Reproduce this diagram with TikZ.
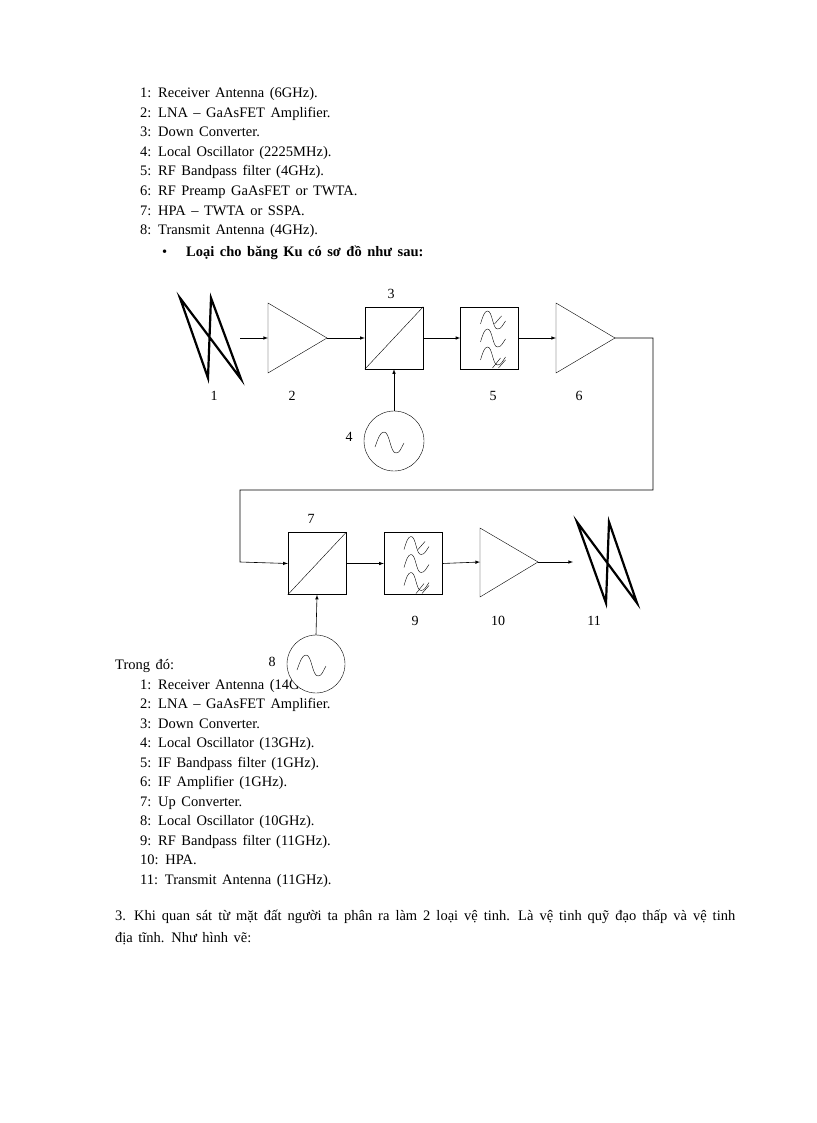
\documentclass[tikz,border=0pt]{standalone}
\usepackage{fontspec}
\setmainfont{Liberation Serif}
\newcommand{\wsp}{\spaceskip=5.5pt plus 1pt minus 0.5pt}
\begin{document}
\begin{tikzpicture}[x=1pt,y=-1pt,
  txt/.style={anchor=base west,inner sep=0pt,font=\fontsize{14.5}{16}\selectfont\wsp},
  lab/.style={inner sep=0pt,font=\fontsize{14}{15}\selectfont},
  blk/.style={draw,minimum width=58pt,minimum height=62pt,inner sep=0pt},
  osc/.style={draw,circle,fill=white,minimum size=60pt,inner sep=0pt},
  arr/.style={-latex,line width=0.6pt},
  ant/.style={line width=2.2pt,line join=miter}]
\useasboundingbox (0,0) rectangle (816,1123);
% text list 1
\foreach \t [count=\i] in {1: Receiver  Antenna  (6GHz).,2: LNA – GaAsFET Amplifier.,3: Down Converter.,4: Local Oscillator  (2225MHz).,5: RF Bandpass  filter  (4GHz).,6: RF Preamp  GaAsFET  or TWTA.,7: HPA – TWTA  or  SSPA.,8: Transmit  Antenna  (4GHz).}
  \node[txt] (a\i) at (140,{98+19.5*(\i-1)}) {\t};
\node[txt] (bul) at (162,256) {\textbullet};
\node[txt] (head) at (186,256) {\textbf{Loại cho băng Ku có sơ đồ như sau:}};
% top row
\draw[ant] (180,298) -- (208,378) -- (211,298) -- (241,379) -- cycle;
\coordinate (a1e) at (240,338);
\coordinate (n2l) at (268,338);
\draw (268,303) -- (327,338) -- (268,373) -- cycle;
\coordinate (n2r) at (327,338);
\node[blk] (n3) at (394,338) {};
\draw (n3.south west) -- (n3.north east);
\node[blk] (n5) at (489.5,338) {};
\coordinate (n6l) at (556,338);
\draw (556,303) -- (615,338) -- (556,373) -- cycle;
\coordinate (n6r) at (615,338);
\node[osc] (n4) at (394,441) {};
\draw (n4.center) ++(-19,6) .. controls +(3,-8) and +(-4,0) .. ++(9,-15) .. controls +(6,0) and +(-6,0) .. ++(12,21) .. controls +(4,0) and +(-3,5) .. ++(8,-10);
\draw[arr] (a1e) -- (n2l);
\draw[arr] (n2r) -- (n3.west);
\draw[arr] (n3.east) -- (n5.west);
\draw[arr] (n5.east) -- (n6l);
\draw[arr] (n4.north) -- (n3.south);
% bottom row
\node[blk] (n7) at (317,563.5) {};
\draw (n7.south west) -- (n7.north east);
\node[blk] (n9) at (413,563.5) {};
\draw (480,528) -- (538,562) -- (480,597) -- cycle;
\coordinate (n10l) at (480,562);
\coordinate (n10r) at (538,562);
\coordinate (n11) at (573,562);
\draw[ant] (577,522) -- (606,603) -- (609,522) -- (637,603) -- cycle;
\draw[arr] (n6r) -| (653,490) -| (240,562) -- (n7.west);
\draw[arr] (n7.east) -- (n9.west);
\draw[arr] (n9.east) -- (n10l);
\draw[arr] (n10r) -- (n11);
% filter icons
\foreach \f in {n5,n9}{
  \foreach \dy in {-18,0,18}{
    \draw (\f.center) ++(-9,{\dy+4}) .. controls +(2,-7) and +(-3,0) .. ++(7,-13) .. controls +(5,0) and +(-5,0) .. ++(10,18) .. controls +(4,0) and +(-3,4) .. ++(8,-8);
  }
  \draw (\f.center) ++(5,-14) -- ++(7,-8);
  \draw (\f.center) ++(3,30) -- ++(8,-10);
  \draw (\f.center) ++(9,30) -- ++(7,-8);
}
% bottom text
\node[txt] (trong) at (115,669) {Trong  đó:};
\foreach \t [count=\i] in {1: Receiver  Antenna  (14GHz).,2: LNA – GaAsFET Amplifier.,3: Down Converter.,4: Local Oscillator  (13GHz).,5: IF Bandpass  filter  (1GHz).,6: IF Amplifier   (1GHz).,7: Up Converter.,8: Local Oscillator  (10GHz).,9: RF Bandpass  filter  (11GHz).,10: HPA.,11: Transmit  Antenna  (11GHz).}
  \node[txt] (b\i) at (140,{689+19.5*(\i-1)}) {\t};
\node[osc,minimum size=58pt] (n8) at (316,664) {};
\draw (n8.center) ++(-19,6) .. controls +(3,-8) and +(-4,0) .. ++(9,-15) .. controls +(6,0) and +(-6,0) .. ++(12,21) .. controls +(4,0) and +(-3,5) .. ++(8,-10);
\draw[arr] (n8.north) -- (n7.south);
% labels
\node[lab] (l1) at (214,396) {1};
\node[lab] (l2) at (292,396) {2};
\node[lab] (l3) at (391,294) {3};
\node[lab] (l4) at (349,437) {4};
\node[lab] (l5) at (493,396) {5};
\node[lab] (l6) at (579,396) {6};
\node[lab] (l7) at (311,519) {7};
\node[lab] (l8) at (272,662) {8};
\node[lab] (l9) at (415,621) {9};
\node[lab] (l10) at (498,621) {10};
\node[lab] (l11) at (594,621) {11};
\node[anchor=north west,inner sep=0pt,text width=620pt,align=justify,font=\fontsize{14.5}{22}\selectfont\wsp] (para) at (115,910) {3. Khi  quan  sát từ  mặt  đất người  ta phân  ra làm  2 loại  vệ tinh.  Là vệ  tinh  quỹ  đạo thấp và vệ  tinh địa tĩnh.  Như hình  vẽ:};
\end{tikzpicture}
\end{document}
